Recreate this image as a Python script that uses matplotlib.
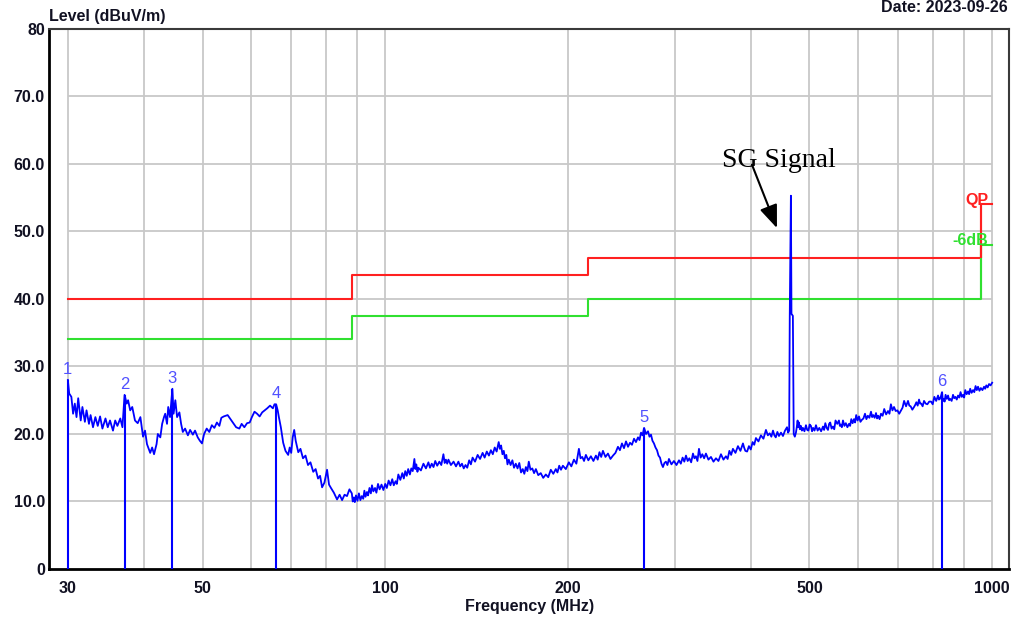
import matplotlib
matplotlib.use("Agg")
import matplotlib.pyplot as plt
from matplotlib.ticker import FixedLocator, FuncFormatter, NullLocator

# ---- measured spectrum, 30-88 MHz (MHz, dBuV/m) ----
freq_low = [
    30.0, 30.15, 30.4, 30.6, 30.8, 31.0, 31.2, 31.5, 31.7, 32.0,
    32.2, 32.5, 32.7, 33.0, 33.3, 33.6, 33.9, 34.2, 34.6, 34.9,
    35.2, 35.6, 35.9, 36.2, 36.6, 36.9, 37.2, 37.5, 37.7, 38.0,
    38.3, 38.7, 39.1, 39.5, 39.9, 40.2, 40.5, 41.0, 41.3, 41.6,
    42.0, 42.2, 42.6, 42.9, 43.2, 43.4, 43.7, 43.9, 44.2, 44.6,
    44.8, 45.1, 45.4, 45.8, 46.1, 46.4, 46.8, 47.3, 47.7, 48.2,
    48.6, 49.1, 49.5, 49.9, 50.3, 50.8, 51.3, 51.8, 52.3, 52.8,
    53.3, 53.7, 54.2, 55.0, 55.5, 56.0, 56.8, 57.5, 58.0, 58.6,
    59.2, 59.8, 60.3, 60.9, 61.5, 62.1, 62.7, 63.3, 63.9, 64.6,
    65.3, 65.7, 66.1, 66.5, 66.8, 67.3, 67.9, 68.5, 69.2, 69.6,
    70.0, 70.4, 70.8, 71.2, 71.9, 72.5, 73.2, 73.9, 74.6, 75.3,
    76.1, 76.8, 77.5, 78.1, 78.7, 79.4, 80.2, 80.8, 81.4, 82.3,
    83.3, 84.1, 84.9, 85.7, 86.5, 87.3,
]
level_low = [
    28.0, 26.0, 25.5, 23.0, 24.5, 22.5, 25.3, 22.0, 24.0, 21.8,
    23.5, 21.5, 22.8, 21.0, 22.5, 21.2, 22.6, 20.8, 22.3, 21.0,
    22.0, 20.5, 22.0, 21.2, 22.3, 21.0, 25.8, 24.5, 25.0, 23.5,
    24.0, 22.0, 21.6, 22.5, 19.6, 20.5, 18.5, 17.2, 18.0, 17.0,
    18.5, 20.0, 19.5, 21.5, 22.5, 23.0, 21.5, 24.0, 22.5, 26.7,
    23.0, 25.0, 22.5, 23.2, 21.5, 20.3, 20.8, 19.8, 20.6, 19.9,
    20.5, 19.5, 19.0, 18.6, 20.0, 20.8, 20.3, 21.3, 20.9, 21.7,
    21.2, 22.4, 22.6, 22.8, 22.3, 21.8, 21.0, 20.8, 21.5, 21.0,
    21.6, 21.7, 22.5, 23.3, 23.0, 22.6, 23.2, 23.5, 23.8, 24.2,
    23.8, 24.4, 24.4, 23.5, 22.5, 21.0, 18.7, 17.5, 16.9, 18.0,
    17.2, 19.5, 20.6, 19.0, 17.3, 17.8, 16.4, 16.8, 15.4, 15.8,
    14.4, 14.8, 13.4, 13.8, 12.1, 12.8, 14.7, 12.5, 12.0, 11.3,
    10.3, 11.0, 10.2, 11.0, 10.8, 11.8,
]

# ---- measured spectrum, 88-463 MHz ----
freq_mid = [
    88.1, 88.4, 88.8, 89.1, 89.5, 90.0, 90.5, 91.0, 91.5, 92.0,
    92.4, 92.8, 93.3, 93.7, 94.2, 94.7, 95.1, 95.6, 96.2, 96.7,
    97.3, 97.9, 98.6, 99.3, 100.0, 100.6, 101.3, 102.0, 102.7, 103.3,
    104.0, 104.5, 105.1, 105.9, 106.7, 107.3, 107.9, 108.5, 109.1, 109.8,
    110.4, 111.0, 111.7, 112.1, 112.5, 113.0, 113.4, 114.5, 115.6, 116.7,
    117.8, 118.5, 119.3, 120.1, 120.9, 121.8, 122.8, 123.7, 124.7, 125.3,
    125.9, 126.5, 127.1, 128.3, 129.6, 130.8, 132.0, 132.9, 133.8, 134.7,
    135.6, 136.5, 137.5, 138.4, 139.3, 140.6, 142.0, 143.3, 144.7, 145.8,
    147.0, 148.2, 149.3, 150.4, 151.5, 152.6, 153.8, 154.5, 155.2, 156.0,
    156.8, 157.5, 158.3, 159.0, 159.8, 160.9, 162.0, 163.0, 164.1, 165.2,
    166.3, 167.4, 168.5, 169.5, 170.5, 171.5, 172.4, 173.5, 174.7, 175.9,
    177.1, 178.7, 180.4, 182.1, 183.9, 185.6, 187.4, 189.2, 191.0, 192.2,
    193.5, 194.8, 196.2, 198.4, 200.7, 202.6, 204.6, 206.5, 208.5, 209.8,
    211.2, 212.6, 214.1, 216.1, 218.2, 220.3, 222.4, 223.9, 225.4, 226.9,
    228.4, 230.6, 232.8, 235.0, 237.3, 239.5, 241.8, 243.6, 245.5, 247.4,
    249.3, 251.2, 253.1, 255.0, 257.0, 258.9, 260.9, 262.4, 263.9, 265.4,
    267.0, 269.0, 271.0, 272.5, 274.1, 275.6, 277.2, 278.8, 280.4, 282.0,
    283.6, 285.2, 286.8, 288.4, 290.0, 291.7, 293.4, 296.2, 299.0, 301.9,
    304.8, 306.9, 309.0, 311.0, 313.0, 315.0, 317.0, 319.2, 321.4, 323.2,
    325.0, 326.9, 328.8, 330.9, 333.0, 335.3, 337.6, 340.8, 344.1, 347.4,
    350.7, 354.0, 357.4, 360.8, 364.2, 366.6, 369.0, 371.5, 374.0, 377.6,
    381.2, 384.8, 388.5, 390.2, 392.0, 394.7, 397.4, 400.2, 403.0, 405.5,
    408.1, 412.0, 415.9, 419.9, 423.9, 427.0, 430.0, 432.7, 435.4, 437.7,
    440.0, 442.7, 445.4, 448.8, 452.2, 455.7, 459.2, 461.1, 463.0,
]
level_mid = [
    11.2, 10.0, 10.6, 9.9, 10.9, 10.1, 11.2, 10.2, 10.8, 10.4,
    11.6, 10.7, 11.4, 10.9, 12.0, 11.2, 12.4, 11.5, 12.0, 11.3,
    12.6, 11.8, 12.5, 11.7, 12.6, 12.0, 13.1, 12.4, 13.3, 12.4,
    13.0, 12.6, 14.0, 13.2, 14.2, 13.4, 14.5, 13.8, 14.8, 14.0,
    14.9, 14.5, 16.3, 14.8, 15.5, 14.4, 15.0, 14.6, 15.6, 14.9,
    15.8, 15.0, 15.6, 15.1, 16.0, 15.3, 15.9, 15.4, 17.0, 15.7,
    16.2, 15.6, 16.2, 15.4, 15.9, 15.2, 15.9, 15.2, 15.6, 14.9,
    15.4, 15.0, 16.1, 15.5, 16.5, 15.9, 16.9, 16.3, 17.2, 16.5,
    17.4, 16.8, 17.6, 17.0, 18.0, 17.4, 18.8, 17.8, 18.3, 17.0,
    17.5, 16.4, 16.9, 15.5, 16.2, 15.4, 16.1, 15.0, 15.6, 14.9,
    15.7, 14.3, 14.8, 14.1, 15.1, 14.5, 15.9, 14.7, 14.9, 14.2,
    14.8, 13.9, 14.2, 13.5, 14.0, 13.6, 14.7, 14.1, 14.8, 14.3,
    15.3, 14.7, 15.3, 14.8, 15.8, 15.2, 16.2, 15.6, 17.8, 16.4,
    16.6, 16.0, 16.9, 16.1, 16.7, 16.0, 16.8, 16.2, 17.3, 16.6,
    17.5, 16.6, 17.1, 16.3, 16.8, 17.2, 18.1, 17.6, 18.6, 17.9,
    18.9, 18.1, 18.7, 18.4, 19.3, 18.8, 19.5, 19.1, 20.2, 19.8,
    20.9, 20.0, 20.4, 19.6, 19.9, 19.0, 18.6, 18.0, 17.6, 16.8,
    16.5, 15.6, 15.1, 15.7, 15.9, 15.4, 16.3, 15.5, 16.0, 15.4,
    16.1, 15.6, 16.5, 15.9, 16.8, 16.0, 16.4, 15.8, 17.1, 16.4,
    16.7, 16.0, 17.8, 16.5, 17.0, 16.4, 17.1, 16.2, 16.6, 15.9,
    16.4, 16.0, 17.0, 16.2, 16.7, 16.3, 17.5, 16.9, 17.8, 17.2,
    18.2, 17.5, 18.6, 18.0, 17.5, 17.4, 18.2, 17.7, 18.8, 18.4,
    19.4, 18.9, 19.8, 19.3, 20.6, 19.8, 20.1, 19.6, 20.5, 19.8,
    19.5, 20.3, 19.7, 20.2, 19.7, 20.5, 21.0, 20.2, 20.5,
]

# ---- signal generator carrier ----
freq_sg = [464.0, 466.0, 467.0, 469.5]
level_sg = [37.5, 55.3, 37.8, 37.5]

# ---- measured spectrum, 471-1000 MHz ----
freq_high = [
    471.0, 473.0, 475.0, 476.5, 478.0, 479.2, 480.5, 482.2, 484.0, 485.9,
    487.8, 490.6, 493.4, 495.7, 498.0, 500.4, 502.8, 504.9, 507.0, 509.7,
    512.5, 515.7, 519.0, 522.6, 526.3, 528.6, 531.0, 533.7, 536.4, 538.7,
    541.0, 543.8, 546.6, 549.3, 552.0, 555.6, 559.2, 561.1, 563.0, 565.4,
    567.8, 570.9, 574.0, 577.4, 580.9, 583.4, 586.0, 589.0, 592.0, 594.5,
    597.0, 600.2, 603.4, 606.7, 610.0, 613.6, 617.3, 620.6, 624.0, 627.7,
    631.5, 634.2, 637.0, 640.3, 643.6, 646.3, 649.0, 652.4, 655.9, 660.0,
    664.0, 668.8, 673.6, 677.3, 681.0, 685.0, 689.1, 693.5, 698.0, 702.8,
    707.6, 711.8, 716.0, 721.3, 726.7, 730.3, 734.0, 738.7, 743.5, 746.7,
    750.0, 753.8, 757.7, 760.8, 764.0, 768.1, 772.2, 777.1, 782.0, 787.5,
    793.1, 798.0, 803.0, 808.7, 814.4, 817.2, 820.0, 823.4, 826.9, 829.4,
    832.0, 835.0, 838.0, 842.0, 845.9, 849.4, 853.0, 857.5, 862.0, 866.0,
    870.0, 874.3, 878.6, 882.8, 887.0, 891.2, 895.4, 899.2, 903.0, 907.8,
    912.6, 916.3, 920.0, 925.0, 930.1, 934.5, 939.0, 943.4, 947.8, 952.9,
    958.0, 963.8, 969.7, 973.8, 978.0, 983.1, 988.2, 994.0, 1000.0,
]
level_high = [
    20.0, 19.6, 20.2, 21.0, 22.0, 21.0, 21.7, 20.7, 21.2, 20.5,
    20.9, 20.4, 21.3, 20.6, 20.5, 21.4, 21.2, 20.4, 20.9, 20.5,
    21.3, 20.5, 20.9, 20.4, 21.1, 20.6, 21.6, 20.9, 20.6, 21.5,
    21.7, 20.8, 21.1, 20.7, 22.0, 21.5, 22.0, 21.2, 21.4, 21.0,
    22.0, 21.2, 21.6, 21.0, 21.5, 21.2, 22.2, 21.6, 22.2, 21.7,
    22.8, 22.0, 22.6, 21.8, 22.1, 22.3, 23.0, 22.2, 22.7, 22.4,
    23.3, 22.5, 22.8, 22.4, 23.1, 22.3, 22.7, 22.2, 23.0, 22.7,
    23.7, 22.9, 23.4, 23.0, 24.4, 23.5, 24.0, 23.4, 23.5, 23.0,
    23.5, 23.9, 24.9, 24.1, 24.9, 24.2, 24.1, 23.6, 24.0, 24.3,
    24.7, 24.2, 25.1, 24.5, 24.5, 24.1, 24.9, 24.5, 24.4, 24.8,
    24.8, 24.4, 25.5, 24.9, 25.7, 25.1, 25.2, 25.6, 26.2, 24.9,
    25.2, 24.8, 25.8, 25.2, 25.7, 25.0, 25.2, 24.9, 25.8, 25.3,
    25.5, 25.1, 25.7, 25.4, 26.2, 25.5, 25.8, 25.4, 26.5, 25.9,
    26.3, 25.9, 26.7, 26.1, 26.5, 26.2, 27.1, 26.5, 27.0, 26.4,
    26.8, 26.5, 27.0, 26.7, 27.2, 26.9, 27.4, 27.2, 27.6,
]

# ---- limit lines (step edges) ----
limit_edges_mhz = [30, 88, 216, 960, 1000]
qp_limit = [40.0, 43.5, 46.0, 54.0, 54.0]
margin_limit = [34.0, 37.5, 40.0, 48.0, 48.0]

# ---- peak markers ----
marker_freq = [30.0, 37.2, 44.6, 66.1, 267.0, 826.9]
marker_level = [28.0, 25.8, 26.7, 24.4, 20.9, 26.2]
marker_names = ["1", "2", "3", "4", "5", "6"]

# ---- axes ticks ----
xtick_values = [30, 50, 100, 200, 500, 1000]
xgrid_values = [30, 40, 50, 60, 70, 80, 90, 100, 200, 300, 400, 500, 600, 700, 800, 900, 1000]
ytick_values = [0, 10, 20, 30, 40, 50, 60, 70, 80]
ygrid_values = [10, 20, 30, 40, 50, 60, 70]

freq_mhz = freq_low + freq_mid + freq_sg + freq_high
level_dbuv = level_low + level_mid + level_sg + level_high

plt.rcParams['font.family'] = ['Liberation Sans', 'DejaVu Sans']

fig = plt.figure(figsize=(10.15, 6.19), dpi=100)
ax = fig.add_axes([0.0483, 0.0808, 0.9458, 0.8724])
ax.set_xscale('log')
ax.set_xlim(27.93, 1066)
ax.set_ylim(0, 80)

grid_col = '#c8c8c8'
ax.vlines(xgrid_values, 0, 80, color=grid_col, lw=1.3, zorder=1)
ax.hlines(ygrid_values, 30, 1000, color=grid_col, lw=1.3, zorder=1)

ax.step(limit_edges_mhz, qp_limit, where='post', color='#ff2020', lw=1.5, zorder=3)
ax.step(limit_edges_mhz, margin_limit, where='post', color='#30e030', lw=1.5, zorder=3)
ax.vlines(960, margin_limit[2], margin_limit[3], color='#30e030', lw=1.5, zorder=3)
ax.vlines(960, qp_limit[2], qp_limit[3], color='#ff2020', lw=1.5, zorder=3)

ax.plot(freq_mhz, level_dbuv, color='#0000ff', lw=1.3, zorder=4)
ax.vlines(marker_freq, 0, marker_level, color='#0000ff', lw=1.5, zorder=4)
for f, lv, name in zip(marker_freq, marker_level, marker_names):
    ax.annotate(name, (f, lv), xytext=(0, 3), textcoords='offset pixels',
                ha='center', va='bottom', fontsize=12, color='#5050ff', zorder=5)

ax.text(985, 53.5, "QP", color='#ff2020', fontsize=11.5, fontweight='bold',
        ha='right', va='bottom')
ax.text(985, 47.6, "-6dB", color='#30e030', fontsize=11.5, fontweight='bold',
        ha='right', va='bottom')

# annotation for the signal-generator line
ax.annotate("", xy=(442, 50.5), xytext=(402, 59.9),
            arrowprops=dict(arrowstyle='-|>,head_length=1.4,head_width=0.55',
                            color='black', lw=1.5, shrinkA=0, shrinkB=0), zorder=6)
ax.text(359, 59.6, "SG Signal", family='Liberation Serif', fontsize=20,
        color='black', ha='left', va='baseline', zorder=6)

# axis styling
txt_col = '#111122'
ax.xaxis.set_major_locator(FixedLocator(xtick_values))
ax.xaxis.set_minor_locator(NullLocator())
ax.xaxis.set_major_formatter(FuncFormatter(lambda v, p: f"{v:g}"))
ax.yaxis.set_major_locator(FixedLocator(ytick_values))
ax.yaxis.set_major_formatter(FuncFormatter(
    lambda v, p: f"{v:.0f}" if v in (0, 80) else f"{v:.1f}"))
ax.tick_params(axis='both', length=0, labelsize=11.5, labelcolor=txt_col)
ax.tick_params(axis='x', pad=9)
ax.tick_params(axis='y', pad=3)
for lab in ax.get_xticklabels() + ax.get_yticklabels():
    lab.set_fontweight('bold')

for side in ('left', 'bottom'):
    ax.spines[side].set_color('black')
    ax.spines[side].set_linewidth(2.0)
for side in ('top', 'right'):
    ax.spines[side].set_color('#3a3a3a')
    ax.spines[side].set_linewidth(1.5)

fig.text(530 / 1015, 1 - 606 / 619, "Frequency (MHz)", ha='center', va='center',
         fontsize=11.5, fontweight='bold', color=txt_col)
fig.text(49 / 1015, 1 - 17 / 619, "Level (dBuV/m)", ha='left', va='center',
         fontsize=11.5, fontweight='bold', color=txt_col)
fig.text(1008 / 1015, 1 - 7 / 619, "Date: 2023-09-26", ha='right', va='center',
         fontsize=11.5, fontweight='bold', color=txt_col)

fig.savefig("out.png", dpi=100)
